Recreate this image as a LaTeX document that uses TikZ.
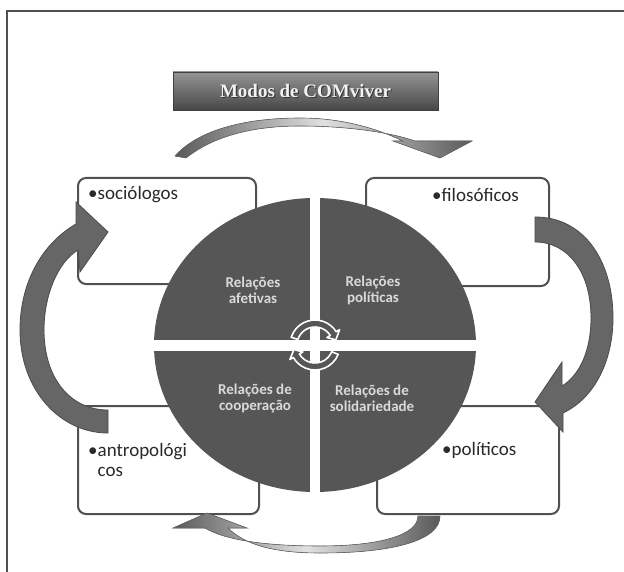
\documentclass[tikz,border=0pt]{standalone}
\usepackage{fontspec}
\setmainfont{Carlito}
\newfontfamily\titlefont{Liberation Serif}
\usetikzlibrary{calc,shapes.geometric}
\definecolor{quad}{HTML}{565656}
\definecolor{edge}{HTML}{505050}
\definecolor{arrowgray}{HTML}{666666}
\definecolor{txt}{HTML}{2A2A2A}
\definecolor{qtxt}{HTML}{DADADA}
\begin{document}
\begin{tikzpicture}[x=1pt,y=-1pt,
  infobox/.style={draw=edge, line width=2pt, rounded corners=8pt, fill=white, inner sep=0, anchor=north west},
  boxlabel/.style={font=\fontsize{19}{20}\selectfont, text=txt, anchor=west, inner sep=0, align=left},
  qlabel/.style={font=\bfseries\fontsize{15}{16}\selectfont, text=qtxt, align=center},
  bigarrow/.style={fill=arrowgray, draw=black!70, line width=0.8pt},
  thinarrow/.style={left color=black!65, right color=black!65, middle color=black!12, draw=black!60, line width=0.6pt},
  centerarrow/.style={fill=quad, draw=white, line width=1.6pt, line join=round}]

\useasboundingbox (0,0) rectangle (624,572);
\fill[white] (0,0) rectangle (624,572);
\draw[edge, line width=2pt] (7,572) -- (7,11) -- (624,11);

% title
\node[minimum width=265pt, minimum height=38pt, inner sep=0,
      top color=black!42, bottom color=black!72, draw=black!75, line width=0.8pt] (title) at (305.5,91) {};
\node[font=\titlefont\bfseries\fontsize{19}{21}\selectfont, text=black!80] (titleshadow) at ($(title.center)+(1,1.2)$) {Modos de COMviver};
\node[font=\titlefont\bfseries\fontsize{19}{21}\selectfont, text=black!5] (titletext) at (title.center) {Modos de COMviver};

% boxes
\node[infobox, minimum width=178pt, minimum height=106pt] (soc) at (77,177) {};
\node[infobox, minimum width=183pt, minimum height=108pt] (fil) at (365,177) {};
\node[infobox, minimum width=181pt, minimum height=108pt] (ant) at (77,405) {};
\node[infobox, minimum width=182pt, minimum height=108pt] (pol) at (376,405) {};

\node[boxlabel] (soct) at ($(soc.north west)+(11,18)$) {•sociólogos};
\node[boxlabel] (filt) at ($(fil.north west)+(67,18)$) {•filosóficos};
\node[boxlabel] (antt) at ($(ant.north west)+(11,55)$) {•antropológi\\\phantom{•}cos};
\node[boxlabel] (polt) at ($(pol.north west)+(66,45)$) {•políticos};

% central circle
\node[ellipse, fill=quad, minimum width=322pt, minimum height=294pt, inner sep=0] (circ) at (315,345) {};
\draw[white, line width=10pt] (circ.north) -- (circ.south);
\draw[white, line width=11pt] (circ.west) -- (circ.east);

\node[qlabel] (qa) at (253,290) {Relações\\afetivas};
\node[qlabel] (qb) at (373,290) {Relações\\políticas};
\node[qlabel] (qc) at (255,398) {Relações de\\cooperação};
\node[qlabel] (qd) at (372,398) {Relações de\\solidariedade};

% centre circular arrows
\coordinate (cc) at (315,345);
\filldraw[centerarrow] ($(cc)+(198:25)$) arc[start angle=198, end angle=328, radius=25]
  -- ($(cc)+(328:29)$) -- ($(cc)+(346:21.5)$) -- ($(cc)+(328:14)$) -- ($(cc)+(328:18)$)
  arc[start angle=328, end angle=198, radius=18] -- cycle;
\filldraw[centerarrow] ($(cc)+(22:25)$) arc[start angle=22, end angle=150, radius=25]
  -- ($(cc)+(150:29)$) -- ($(cc)+(168:21.5)$) -- ($(cc)+(150:14)$) -- ($(cc)+(150:18)$)
  arc[start angle=150, end angle=22, radius=18] -- cycle;

% left big arrow (antropologicos -> sociologos)
\filldraw[bigarrow] (108,410) .. controls (70,410) and (44,378) .. (44,330)
  .. controls (44,295) and (58,262) .. (78,250) -- (80,272) -- (108,232) -- (76,202) -- (76,224)
  .. controls (40,245) and (20,285) .. (20,330)
  .. controls (20,390) and (60,433) .. (108,433) -- cycle;

% right big arrow (filosoficos -> politicos)
\filldraw[bigarrow] (535,217) .. controls (585,217) and (613,262) .. (613,318)
  .. controls (613,360) and (595,398) .. (563,413) -- (563,432) -- (535,402) -- (562,362) -- (562,386)
  .. controls (580,375) and (591,350) .. (591,318)
  .. controls (591,272) and (568,242) .. (535,242) -- cycle;

% top thin arrow
\filldraw[thinarrow] (186,158) .. controls (215,135) and (255,126) .. (300,126)
  .. controls (350,126) and (392,133) .. (415,141) -- (472,141) -- (440,158) -- (393,141) -- (403,141)
  .. controls (380,130) and (345,118) .. (300,118)
  .. controls (250,118) and (200,128) .. (175,156) -- cycle;

% bottom thin arrow
\filldraw[thinarrow] (440,516) .. controls (440,540) and (395,553) .. (320,553)
  .. controls (275,553) and (245,545) .. (228,528) -- (247,528) -- (207,513) -- (173,528) -- (205,528)
  .. controls (225,540) and (265,546) .. (320,546)
  .. controls (380,546) and (418,535) .. (418,516) -- cycle;
\end{tikzpicture}
\end{document}
